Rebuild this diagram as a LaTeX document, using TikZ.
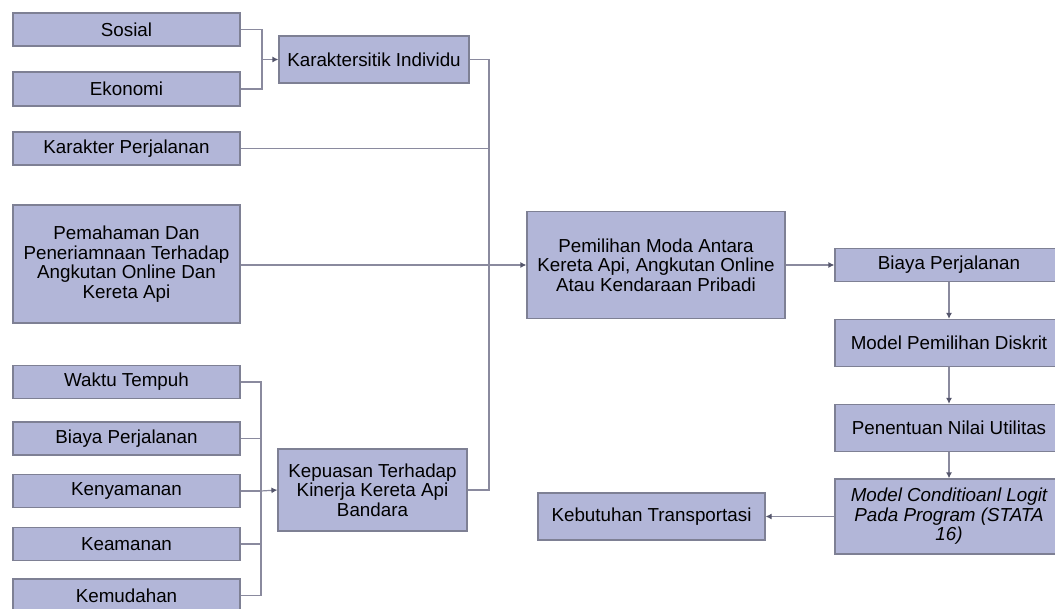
\documentclass[tikz,border=0pt]{standalone}
\usepackage{fontspec}
\setmainfont{Liberation Sans}
\usetikzlibrary{arrows.meta}

\definecolor{kotakisi}{HTML}{B2B6D8}
\definecolor{kotaktepi}{HTML}{7E8094}
\definecolor{garisabu}{HTML}{8A8A9E}
\definecolor{ujung}{HTML}{55566C}

\tikzset{
    kotak/.style={draw=kotaktepi, fill=kotakisi, line width=0.6pt, inner sep=1pt,
        align=center, font=\fontsize{9.4}{9.8}\selectfont},
    garis/.style={draw=garisabu, line width=0.6pt},
    panah/.style={garis, -{Latex[length=3pt,width=3pt,color=ujung]}}
}

\begin{document}
\begin{tikzpicture}[x=0.5pt, y=-0.5pt]
    \useasboundingbox (0,0) rectangle (1055,609);

    % Individual characteristics
    \node[kotak, minimum width=113.5pt, minimum height=16.5pt] (sosial) at (126.5,29.5) {Sosial};
    \node[kotak, minimum width=113.5pt, minimum height=17pt] (ekonomi) at (126.5,89) {Ekonomi};
    \node[kotak, minimum width=95pt, minimum height=23.5pt] (individu) at (374,59.5) {Karaktersitik Individu};
    \node[kotak, minimum width=113.5pt, minimum height=16.5pt] (karakter) at (126.5,148.5) {Karakter Perjalanan};
    \node[kotak, minimum width=113.5pt, minimum height=59pt] (paham) at (126.5,264)
        {Pemahaman Dan\\Peneriamnaan Terhadap\\Angkutan Online Dan\\Kereta Api};

    % Satisfaction with the airport train
    \node[kotak, minimum width=113.5pt, minimum height=16.5pt] (waktu) at (126.5,382) {Waktu Tempuh};
    \node[kotak, minimum width=113.5pt, minimum height=16.5pt] (biaya) at (126.5,438.5) {Biaya Perjalanan};
    \node[kotak, minimum width=113.5pt, minimum height=16.5pt] (nyaman) at (126.5,491) {Kenyamanan};
    \node[kotak, minimum width=113.5pt, minimum height=16.5pt] (aman) at (126.5,544) {Keamanan};
    \node[kotak, minimum width=113.5pt, minimum height=16.5pt] (mudah) at (126.5,595.5) {Kemudahan};
    \node[kotak, minimum width=94.5pt, minimum height=41pt] (puas) at (372.5,490)
        {Kepuasan Terhadap\\Kinerja Kereta Api\\Bandara};

    % Mode choice and model chain
    \node[kotak, minimum width=129pt, minimum height=53.5pt] (pilih) at (656,265)
        {Pemilihan Moda Antara\\Kereta Api, Angkutan Online\\Atau Kendaraan Pribadi};
    \node[kotak, minimum width=114pt, minimum height=16.5pt] (biayadua) at (949,265) {Biaya Perjalanan};
    \node[kotak, minimum width=114pt, minimum height=23.5pt] (diskrit) at (949,343) {Model Pemilihan Diskrit};
    \node[kotak, minimum width=114pt, minimum height=23.5pt] (utilitas) at (949,428) {Penentuan Nilai Utilitas};
    \node[kotak, minimum width=114pt, minimum height=37.5pt, font=\fontsize{9.4}{9.8}\selectfont\itshape] (logit) at (949,516.5)
        {Model Conditioanl Logit\\Pada Program (STATA\\16)};
    \node[kotak, minimum width=113.5pt, minimum height=23.5pt] (butuh) at (651.5,516.5) {Kebutuhan Transportasi};

    % Junctions
    \coordinate (simpulA) at (262,59.5);
    \coordinate (simpulB) at (489,265);
    \coordinate (simpulC) at (261,491);

    % Connectors
    \draw[garis] (sosial.east) -| (simpulA) |- (ekonomi.east);
    \draw[panah] (simpulA) -- (individu.west);
    \draw[garis] (individu.east) -| (simpulB);
    \draw[garis] (karakter.east) -| (simpulB);
    \draw[garis] (puas.east) -| (simpulB);
    \draw[panah] (paham.east |- pilih.west) -- (pilih.west);
    \foreach \sub in {waktu, biaya, nyaman, aman, mudah}
        \draw[garis] (\sub.east) -| (simpulC);
    \draw[panah] (simpulC) -- (puas.west);

    \draw[panah] (pilih.east) -- (biayadua.west);
    \draw[panah] (biayadua.south) -- (diskrit.north);
    \draw[panah] (diskrit.south) -- (utilitas.north);
    \draw[panah] (utilitas.south) -- (logit.north);
    \draw[panah] (logit.west) -- (butuh.east);
\end{tikzpicture}
\end{document}
